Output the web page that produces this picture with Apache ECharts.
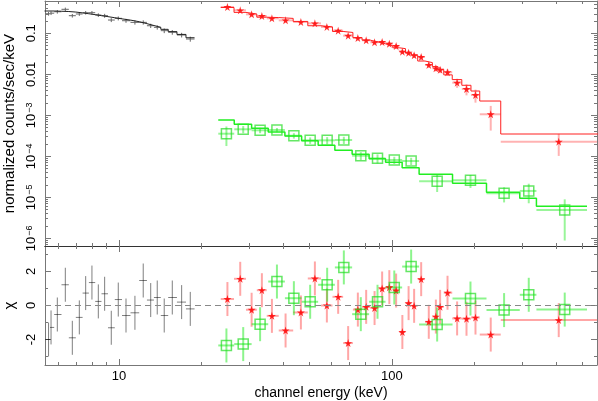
<!DOCTYPE html>
<html>
<head>
<meta charset="utf-8">
<script src="https://cdn.jsdelivr.net/npm/echarts@6/dist/echarts.min.js"></script>
<style>
html, body { margin: 0; padding: 0; background: #fff; }
#chart { width: 598px; height: 401px; }
</style>
</head>
<body>
<div id="chart"></div>
<script>
/* 低能段数据（灰色） */
var blackEdges = [5.334, 5.588, 5.788, 6.156, 6.549, 6.947, 7.356, 7.757, 8.182, 8.628, 9.114,
                  9.652, 10.26, 11.02, 11.86, 12.66, 13.43, 14.23, 15.15, 16.31, 17.60, 18.92];
var blackE = [5.519, 5.636, 5.943, 6.358, 6.745, 7.155, 7.55, 7.96, 8.40, 8.86, 9.37,
              9.94, 10.61, 11.44, 12.27, 13.07, 13.81, 14.65, 15.68, 16.97, 18.25];
var blackRate = [0.30, 0.31, 0.336, 0.385, 0.269, 0.296, 0.318, 0.318, 0.279, 0.269, 0.211,
                 0.232, 0.203, 0.185, 0.185, 0.153, 0.140, 0.116, 0.106, 0.091, 0.0726];
var blackErr = [0.1, 0.1, 0.1, 0.1, 0.1, 0.1, 0.1, 0.1, 0.1, 0.11, 0.11,
                0.11, 0.11, 0.12, 0.12, 0.12, 0.12, 0.13, 0.13, 0.13, 0.14];
var blackModel = [0.35, 0.35, 0.345, 0.34, 0.33, 0.315, 0.30, 0.285, 0.27, 0.255, 0.24,
                  0.225, 0.21, 0.192, 0.172, 0.155, 0.14, 0.125, 0.11, 0.094, 0.078];
var blackChi = [-2.0, -1.29, -0.53, 1.22, -1.9, -0.7, 0.73, 1.35, 0.24, 0.69, -1.31,
                0.35, -0.59, -0.43, 1.47, 0.32, 0.47, -0.59, 0.47, 0.2, -0.2];

/* 红色数据（星号） */
var redEdges = [23.6, 26.4, 29.2, 32.0, 34.8, 38.5, 43.5, 49.2, 55.0, 60.6, 66.3, 72.0, 77.8, 83.4, 89.3, 95.0,
                100.8, 106.5, 112.2, 118.0, 124.4, 132.3, 140.8, 147.6, 155.0, 166.5, 180.5, 195.0, 210.0, 250.7, 600];
var redE = [24.97, 27.82, 30.63, 33.40, 36.35, 40.79, 46.42, 52.24, 57.80, 63.58, 69.17, 75.07, 80.53, 86.44, 92.15,
            97.9, 103.7, 109.3, 115.2, 120.7, 128.1, 136.6, 145.0, 150.3, 160.0, 173.5, 187.8, 202.6, 230.4, 409];
var redRate = [0.438, 0.364, 0.290, 0.264, 0.232, 0.207, 0.189, 0.175, 0.143, 0.116, 0.0874, 0.0767, 0.0675, 0.0603, 0.0614,
               0.0557, 0.0490, 0.0356, 0.0336, 0.0291, 0.0264, 0.0169, 0.0140, 0.0129, 0.0112, 0.00624, 0.00438, 0.00313, 0.00106, 2.27e-4];
var redErr = [0.07, 0.07, 0.07, 0.07, 0.07, 0.08, 0.08, 0.08, 0.09, 0.09, 0.09, 0.1, 0.1, 0.1, 0.1,
              0.1, 0.11, 0.12, 0.12, 0.13, 0.13, 0.15, 0.16, 0.17, 0.18, 0.25, 0.3, 0.35, 0.6, 0.55];
var redModel = [0.426, 0.324, 0.295, 0.247, 0.242, 0.231, 0.195, 0.153, 0.143, 0.111, 0.1048, 0.0785, 0.068, 0.0612, 0.0553,
                0.0497, 0.0443, 0.0423, 0.0330, 0.0292, 0.0211, 0.0193, 0.01546, 0.0131, 0.00969, 0.00743, 0.0054, 0.00391, 0.00223, 3.5e-4];
var redChi = [0.38, 1.57, -0.25, 0.9, -0.61, -1.47, -0.41, 1.59, 0.0, 0.51, -2.21, -0.24, -0.08, -0.15, 1.0,
              1.08, 0.88, -1.56, 0.14, -0.02, 1.55, -0.96, -0.65, -0.08, 0.75, -0.76, -0.78, -0.71, -1.71, -0.86];

/* 绿色数据（方框） */
var greenEdges = [23.11, 26.45, 30.63, 35.24, 40.56, 46.71, 53.70, 61.83, 71.54, 82.56, 94.83, 109.1, 125.9,
                  166.9, 222.3, 294.4, 338.8, 519.3];
var greenE = [24.76, 28.53, 32.9, 37.92, 43.75, 50.2, 57.94, 66.7, 76.97, 88.62, 102.1, 117.7, 146.6,
              194.2, 257.9, 317.6, 430.2];
var greenRate = [3.56e-4, 4.56e-4, 4.31e-4, 4.38e-4, 3.18e-4, 2.45e-4, 2.45e-4, 2.50e-4, 1.035e-4, 8.93e-5, 8.13e-5, 7.68e-5, 2.45e-5,
                 2.60e-5, 1.25e-5, 1.43e-5, 4.9e-6];
var greenErr = [0.5, 0.2, 0.15, 0.12, 0.15, 0.18, 0.2, 0.2, 0.22, 0.25, 0.2, 0.2, 0.45, 0.35, 0.4, 0.5, 0.82];
var greenModel = [7.67e-4, 6.03e-4, 4.82e-4, 3.92e-4, 3.13e-4, 2.40e-4, 1.85e-4, 1.40e-4, 1.12e-4, 8.73e-5, 7.14e-5, 5.27e-5, 3.64e-5,
                  2.19e-5, 1.32e-5, 9.46e-6, 6.03e-6];
var greenChi = [-2.35, -2.27, -1.1, 1.41, 0.43, 0.22, 1.22, 2.24, -0.51, 0.22, 1.06, 2.29, -1.12, 0.41, -0.27, 0.63, -0.24];

/* 坐标轴刻度 */
var xMajor = [10, 100];
var xMinor = [6, 7, 8, 9, 20, 30, 40, 50, 60, 70, 80, 90, 200, 300, 400, 500];
var yMajor = [1e-6, 1e-5, 1e-4, 1e-3, 0.01, 0.1];
var chiMajor = [-2, 0, 2];
var chiMinor = [-3, -1, 1, 3];
var xMin = 5.356, xMax = 564.9;
var yMin = 6.49e-7, yMax = 0.614;
var chiMin = -3.5, chiMax = 3.5;

// 对数轴的次刻度：每个数量级 2..9
var yMinor = [];
yMajor.concat([1]).forEach(function (d) {
	for (var k = 2; k <= 9; k++) {
		yMinor.push(d / 10 * k);
	}
});

var FONT = 'Liberation Sans, Arial, sans-serif';
var axisGray = '#777';

/* 坐标轴生成 */
function xAx(grid, pos, ticks, len, line, labels) {
	var a = {
		type: 'log', logBase: 10, gridIndex: grid, position: pos, min: xMin, max: xMax,
		axisLine: {show: line, onZero: false, lineStyle: {color: grid == 1 && pos == 'top' || grid == 0 && pos == 'bottom' ? '#333' : axisGray, width: 1}},
		axisTick: {show: true, inside: true, length: len, customValues: ticks, lineStyle: {color: axisGray}},
		axisLabel: {show: false},
		splitLine: {show: false}
	};
	if (labels) {
		a.axisLabel = {show: true, customValues: xMajor, margin: 5, fontSize: 13, color: '#000', fontFamily: FONT,
			formatter: function (v) { return String(Math.round(v)); }};
		a.name = 'channel energy (keV)';
		a.nameLocation = 'middle';
		a.nameGap = 21;
		a.nameTextStyle = {fontSize: 14, color: '#000', fontFamily: FONT};
	}
	return a;
}
function yAx(grid, pos, type, min, max, ticks, len, line, labels, name, gap) {
	var a = {
		type: type, gridIndex: grid, position: pos, min: min, max: max,
		axisLine: {show: line, onZero: false, lineStyle: {color: axisGray, width: 1}},
		axisTick: {show: true, inside: true, length: len, customValues: ticks, lineStyle: {color: axisGray}},
		axisLabel: {show: false},
		splitLine: {show: false}
	};
	if (type == 'log') a.logBase = 10;
	if (labels) {
		a.axisLabel = {show: true, customValues: labels, rotate: 90, margin: 7, fontSize: 13, color: '#000', fontFamily: FONT,
			formatter: function (v) {
				if (type != 'log') return String(v);
				var p = Math.round(Math.log10(v));
				if (p >= -2) return String(v);
				return '{b|10}{s|\u2212' + (-p) + '}';
			},
			rich: {
				b: {fontSize: 13, color: '#000', fontFamily: FONT},
				s: {fontSize: 9, color: '#000', fontFamily: FONT, verticalAlign: 'top', padding: [0, 0, 0, 1]}
			}};
		a.name = name;
		a.nameLocation = 'middle';
		a.nameGap = gap;
		a.nameTextStyle = {fontSize: 15, color: '#000', fontFamily: FONT};
	}
	return a;
}

/* 误差棒：横向为能段宽度，纵向为误差 */
function topBars(E, rate, err, edges) {
	return E.map(function (e, i) {
		return [e, rate[i], edges[i], edges[i + 1], rate[i] * (1 - err[i]), rate[i] * (1 + err[i])];
	});
}
function chiBars(E, chi, edges) {
	return E.map(function (e, i) {
		return [e, chi[i], edges[i], edges[i + 1], chi[i] - 1, chi[i] + 1];
	});
}
function stepLine(edges, model) {
	var d = model.map(function (m, i) { return [edges[i], m]; });
	d.push([edges[model.length], model[model.length - 1]]);
	return d;
}
function pts(E, v) {
	return E.map(function (e, i) { return [e, v[i]]; });
}
function barItem(color, w) {
	return function (params, api) {
		var l = api.coord([api.value(2), api.value(1)]);
		var r = api.coord([api.value(3), api.value(1)]);
		var b = api.coord([api.value(0), api.value(4)]);
		var t = api.coord([api.value(0), api.value(5)]);
		return {type: 'group', children: [
			{type: 'line', shape: {x1: l[0], y1: l[1], x2: r[0], y2: r[1]}, style: {stroke: color, lineWidth: w}},
			{type: 'line', shape: {x1: b[0], y1: b[1], x2: t[0], y2: t[1]}, style: {stroke: color, lineWidth: w}}
		]};
	};
}
function custom(data, color, w, xi, yi) {
	return {type: 'custom', xAxisIndex: xi, yAxisIndex: yi, clip: true, silent: true,
		renderItem: barItem(color, w), data: data};
}
function model(data, color, w) {
	return {type: 'line', step: 'end', xAxisIndex: 0, yAxisIndex: 0, symbol: 'none', silent: true,
		lineStyle: {color: color, width: w}, data: data};
}
var starPath = 'path://M50,0 L61,35 L98,35 L68,57 L79,91 L50,70 L21,91 L32,57 L2,35 L39,35 Z';
function stars(data, xi, yi) {
	return {type: 'scatter', xAxisIndex: xi, yAxisIndex: yi, symbol: starPath, symbolSize: 8, silent: true,
		itemStyle: {color: '#ff0000'}, data: data};
}
function squares(data, xi, yi) {
	return {type: 'scatter', xAxisIndex: xi, yAxisIndex: yi, symbol: 'rect', symbolSize: 10, silent: true,
		itemStyle: {color: 'rgba(0,0,0,0)', borderColor: 'rgba(30,220,30,0.85)', borderWidth: 1.5}, data: data};
}

var chart = echarts.init(document.getElementById('chart'));
var option = {
	animation: false,
	backgroundColor: '#fff',
	grid: [
		{left: 45, right: 1, top: 1, height: 245, outerBoundsMode: 'none', containLabel: false},
		{left: 45, right: 1, top: 246, height: 119, outerBoundsMode: 'none', containLabel: false}
	],
	xAxis: [
		xAx(0, 'bottom', xMajor, 6, true, false),
		xAx(0, 'bottom', xMinor, 3, false, false),
		xAx(0, 'top', xMajor, 6, true, false),
		xAx(0, 'top', xMinor, 3, false, false),
		xAx(1, 'bottom', xMajor, 6, true, true),
		xAx(1, 'bottom', xMinor, 3, false, false),
		xAx(1, 'top', xMajor, 6, true, false),
		xAx(1, 'top', xMinor, 3, false, false)
	],
	yAxis: [
		yAx(0, 'left', 'log', yMin, yMax, yMajor, 6, true, yMajor, 'normalized counts/sec/keV', 23),
		yAx(0, 'left', 'log', yMin, yMax, yMinor, 3, false),
		yAx(0, 'right', 'log', yMin, yMax, yMajor, 6, true),
		yAx(0, 'right', 'log', yMin, yMax, yMinor, 3, false),
		yAx(1, 'left', 'value', chiMin, chiMax, chiMajor, 6, true, chiMajor, '\u03c7', 25),
		yAx(1, 'left', 'value', chiMin, chiMax, chiMinor, 3, false),
		yAx(1, 'right', 'value', chiMin, chiMax, chiMajor, 6, true),
		yAx(1, 'right', 'value', chiMin, chiMax, chiMinor, 3, false)
	],
	series: [
		custom(topBars(blackE, blackRate, blackErr, blackEdges), '#666', 1, 0, 0),
		model(stepLine(blackEdges, blackModel), '#222', 1),
		custom(topBars(redE, redRate, redErr, redEdges), 'rgba(255,0,0,0.3)', 2, 0, 0),
		model(stepLine(redEdges, redModel), '#ff2020', 1),
		stars(pts(redE, redRate), 0, 0),
		custom(topBars(greenE, greenRate, greenErr, greenEdges), 'rgba(0,230,0,0.4)', 2, 0, 0),
		model(stepLine(greenEdges, greenModel), '#22ee22', 1.5),
		squares(pts(greenE, greenRate), 0, 0),
		{type: 'line', xAxisIndex: 4, yAxisIndex: 4, data: [], silent: true,
			markLine: {silent: true, symbol: ['none', 'none'], label: {show: false},
				lineStyle: {color: '#888', type: [6, 4], width: 1}, data: [{yAxis: 0}]}},
		custom(chiBars(blackE, blackChi, blackEdges), 'rgba(0,0,0,0.5)', 1, 4, 4),
		custom(chiBars(redE, redChi, redEdges), 'rgba(255,0,0,0.35)', 2, 4, 4),
		stars(pts(redE, redChi), 4, 4),
		custom(chiBars(greenE, greenChi, greenEdges), 'rgba(0,230,0,0.45)', 2, 4, 4),
		squares(pts(greenE, greenChi), 4, 4)
	]
};
chart.setOption(option);
</script>
</body>
</html>
